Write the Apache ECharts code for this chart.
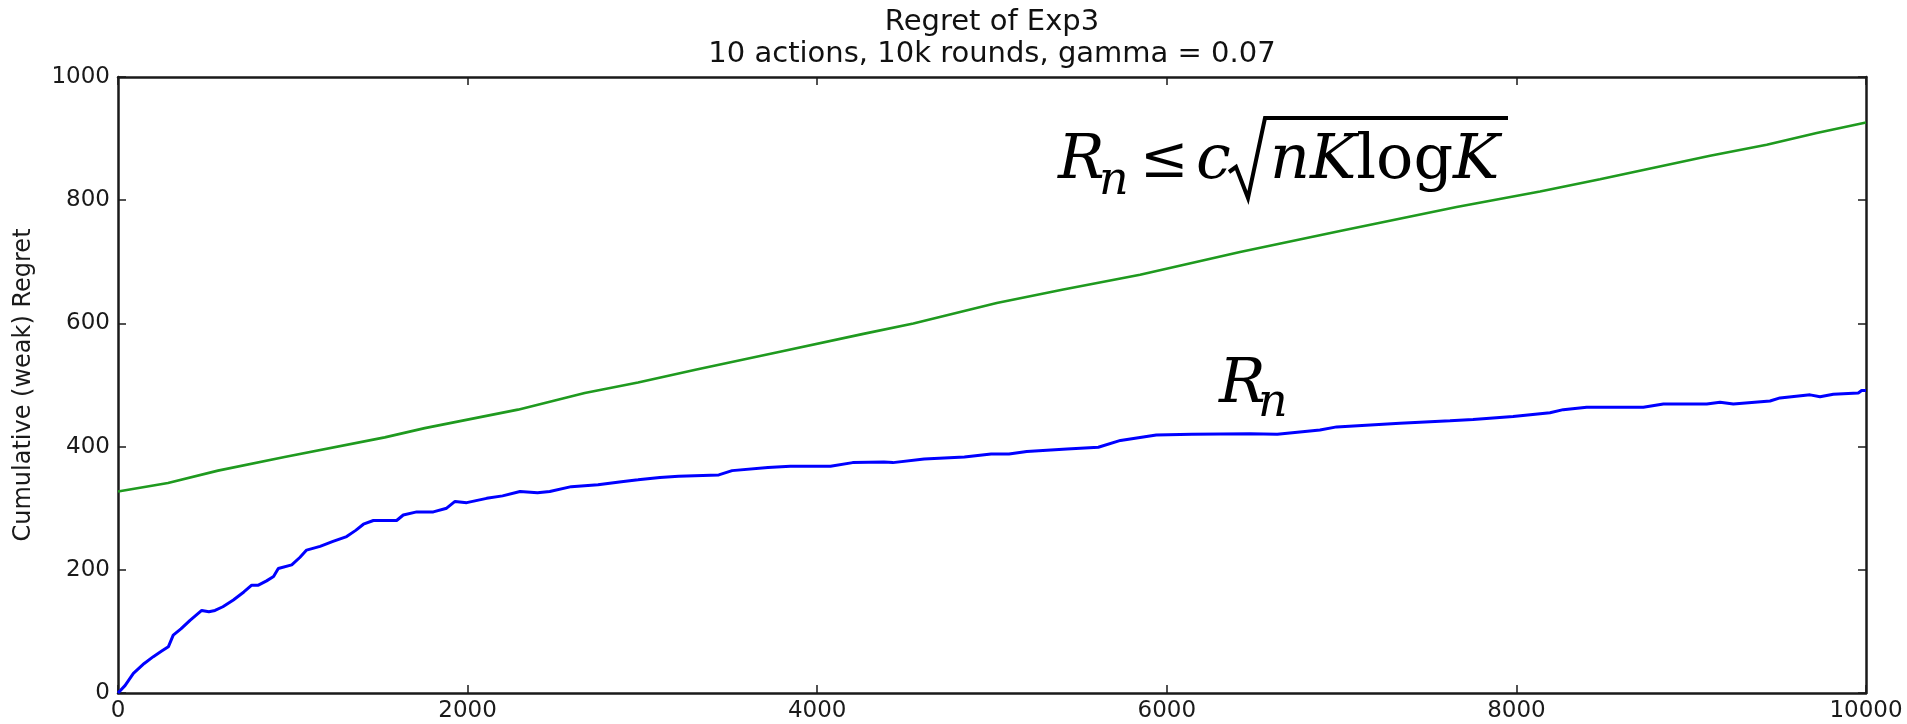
<!DOCTYPE html>
<html>
<head>
<meta charset="utf-8">
<title>Regret of Exp3</title>
<script src="https://cdn.jsdelivr.net/npm/echarts@6/dist/echarts.min.js"></script>
<style>
  html, body { margin: 0; padding: 0; background: #fff; }
  #chart { width: 1907px; height: 724px; }
</style>
</head>
<body>
<div id="chart"></div>
<script>
// Cumulative regret of Exp3 (blue) against round number
const regretRounds = [0, 40, 88, 150, 202, 250, 288, 316, 360, 412, 479, 520, 555, 600, 660, 720, 765, 803, 850, 890, 917, 994, 1040, 1079, 1156, 1230, 1308, 1360, 1404, 1461, 1594, 1632, 1709, 1804, 1880, 1928, 1995, 2109, 2200, 2300, 2400, 2470, 2593, 2746, 2880, 2975, 3100, 3207, 3437, 3513, 3718, 3846, 4076, 4203, 4382, 4433, 4612, 4842, 4995, 5097, 5199, 5429, 5608, 5735, 5940, 6144, 6476, 6632, 6876, 6972, 7334, 7620, 7752, 7981, 8192, 8268, 8402, 8726, 8841, 9089, 9165, 9241, 9451, 9508, 9680, 9737, 9813, 9956, 9975, 10000];
const regretValues = [0, 12, 32, 48, 59, 68, 75, 94, 104, 118, 134, 132, 134, 140, 151, 164, 175, 175, 182, 189, 202, 208, 220, 232, 238, 246, 254, 264, 274, 280, 280, 289, 294, 294, 300, 311, 309, 316, 320, 327, 325, 327, 335, 338, 343, 346, 350, 352, 354, 361, 366, 368, 368, 374, 375, 374, 380, 383, 388, 388, 392, 396, 399, 410, 419, 420, 421, 420, 427, 432, 438, 442, 444, 449, 455, 460, 464, 464, 469, 469, 472, 469, 474, 479, 484, 481, 485, 487, 491, 491];

// Upper bound curve (green)
const boundRounds = [0, 286, 572, 953, 1526, 1755, 2288, 2670, 2975, 3310, 3787, 4264, 4550, 5027, 5408, 5847, 6419, 6991, 7658, 8135, 8478, 8726, 9108, 9432, 9718, 10000];
const boundValues = [327, 341, 361, 383, 415, 430, 460, 487, 504, 525, 554, 583, 600, 633, 655, 679, 716, 750, 789, 814, 834, 849, 872, 890, 909, 926];

// Axis ticks
const xTicks = [0, 2000, 4000, 6000, 8000, 10000];
const yTicks = [0, 200, 400, 600, 800, 1000];

const titleLines = ['Regret of Exp3', '10 actions, 10k rounds, gamma = 0.07'];
const yAxisTitle = 'Cumulative (weak) Regret';

const regretData = regretRounds.map((x, i) => [x, regretValues[i]]);
const boundData = boundRounds.map((x, i) => [x, boundValues[i]]);

const chart = echarts.init(document.getElementById('chart'), null, { renderer: 'canvas' });

const frameColor = '#1a1a1a';
const tickFont = { fontFamily: 'DejaVu Sans', fontSize: 23, color: '#1a1a1a' };

function boxAxis(extra) {
  return Object.assign({
    type: 'value',
    axisLine: { show: true, onZero: false, lineStyle: { color: frameColor, width: 2.5 } },
    axisTick: { show: true, inside: true, length: 8, lineStyle: { color: frameColor, width: 1.5 } },
    splitLine: { show: false },
    axisLabel: { show: false }
  }, extra);
}

const xMin = xTicks[0], xMax = xTicks[xTicks.length - 1];
const yMin = yTicks[0], yMax = yTicks[yTicks.length - 1];
const xStep = xTicks[1] - xTicks[0];
const yStep = yTicks[1] - yTicks[0];
const plainNumber = v => String(v);

const mathItalic = { fontFamily: 'DejaVu Serif', fontStyle: 'italic', fontSize: 62, color: '#000' };
const mathUpright = { fontFamily: 'DejaVu Serif', fontStyle: 'normal', fontSize: 62, color: '#000' };

chart.setOption({
  animation: false,
  backgroundColor: '#ffffff',
  grid: { left: 118, right: 41, top: 77, bottom: 31, containLabel: false },
  xAxis: [
    boxAxis({
      position: 'bottom', min: xMin, max: xMax, interval: xStep,
      axisLabel: Object.assign({ show: true, margin: 7, formatter: plainNumber }, tickFont)
    }),
    boxAxis({ position: 'top', min: xMin, max: xMax, interval: xStep })
  ],
  yAxis: [
    boxAxis({
      position: 'left', min: yMin, max: yMax, interval: yStep,
      axisLabel: Object.assign({ show: true, margin: 8, formatter: plainNumber }, tickFont),
      name: yAxisTitle, nameLocation: 'middle', nameGap: 82, nameRotate: 90,
      nameTextStyle: { fontFamily: 'DejaVu Sans', fontSize: 24, color: '#1a1a1a' }
    }),
    boxAxis({ position: 'right', min: yMin, max: yMax, interval: yStep })
  ],
  series: [
    {
      name: 'bound', type: 'line', data: boundData, xAxisIndex: 0, yAxisIndex: 0,
      showSymbol: false, symbol: 'none', smooth: false,
      lineStyle: { color: '#1f9a1f', width: 2.6 }, z: 3
    },
    {
      name: 'regret', type: 'line', data: regretData, xAxisIndex: 0, yAxisIndex: 0,
      showSymbol: false, symbol: 'none', smooth: false,
      lineStyle: { color: '#0000ff', width: 3 }, z: 4
    }
  ],
  graphic: [
    {
      type: 'text', x: 992, y: 6, silent: true,
      style: {
        text: titleLines.join('\n'), align: 'center', verticalAlign: 'top',
        fontFamily: 'DejaVu Sans', fontSize: 29, lineHeight: 32, fill: '#111'
      }
    },
    // R_n <= c sqrt(nK log K)
    { type: 'text', x: 1058, y: 162, silent: true,
      style: Object.assign({ text: 'R', verticalAlign: 'middle', align: 'left' }, mathItalic, { fill: '#000' }) },
    { type: 'text', x: 1099, y: 182, silent: true,
      style: Object.assign({ text: 'n', verticalAlign: 'middle', align: 'left' }, mathItalic, { fontSize: 46, fill: '#000' }) },
    { type: 'text', x: 1140, y: 162, silent: true,
      style: Object.assign({ text: '≤', verticalAlign: 'middle', align: 'left' }, mathUpright, { fontSize: 58, fill: '#000' }) },
    { type: 'text', x: 1196, y: 162, silent: true,
      style: Object.assign({ text: 'c', verticalAlign: 'middle', align: 'left' }, mathItalic, { fill: '#000' }) },
    { type: 'polyline', silent: true,
      shape: { points: [[1229, 172], [1236, 167], [1248, 198], [1265, 118], [1508, 118]] },
      style: { stroke: '#000', lineWidth: 4, fill: null, lineJoin: 'miter' } },
    { type: 'text', x: 1270, y: 162, silent: true,
      style: {
        text: '{i|nK}{u|log}{i|K}', verticalAlign: 'middle', align: 'left',
        rich: { i: mathItalic, u: mathUpright }
      } },
    // R_n next to the regret curve
    { type: 'text', x: 1219, y: 386, silent: true,
      style: Object.assign({ text: 'R', verticalAlign: 'middle', align: 'left' }, mathItalic, { fill: '#000' }) },
    { type: 'text', x: 1258, y: 404, silent: true,
      style: Object.assign({ text: 'n', verticalAlign: 'middle', align: 'left' }, mathItalic, { fontSize: 46, fill: '#000' }) }
  ]
});
</script>
</body>
</html>
